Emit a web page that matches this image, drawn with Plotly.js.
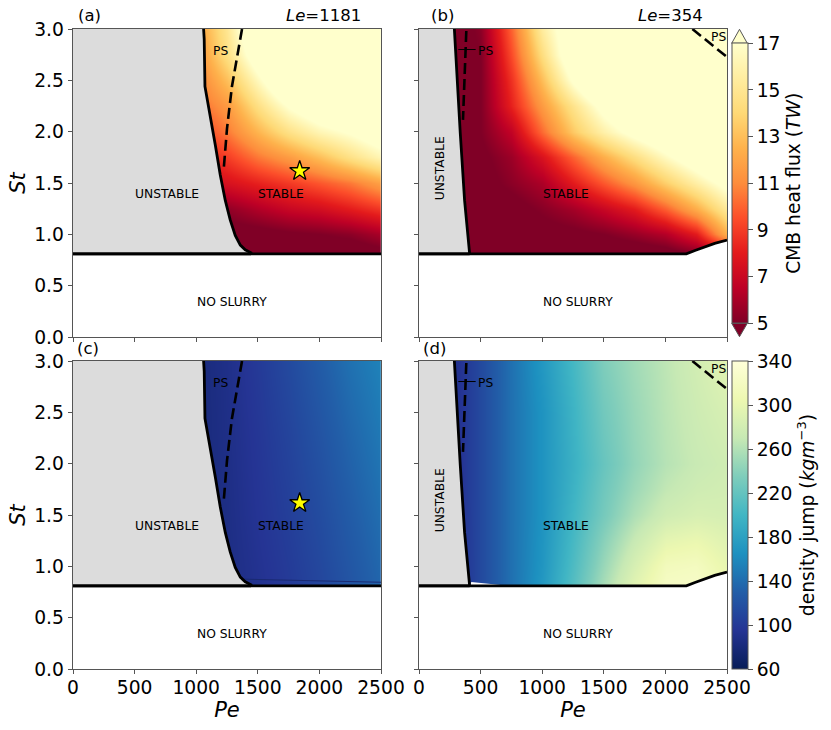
<!DOCTYPE html>
<html>
<head>
<meta charset="utf-8">
<script src="https://cdn.plot.ly/plotly-3.0.1.min.js"></script>
<style>
  html, body { margin: 0; padding: 0; background: #fff; }
  #plot { width: 831px; height: 730px; }
</style>
</head>
<body>
<div id="plot"></div>
<script>
  // grids run a little past the axes so the colour reaches the frame
  const stRows = [0.8, 0.81, 1.0, 1.25, 1.5, 1.75, 2.0, 2.25, 2.5, 2.75, 3.0, 3.25];

  // CMB heat flux (TW), values outside 5-17 just saturate the colour
  const peColsA = [1000, 1250, 1500, 1750, 2000, 2250, 2500, 2750];
  const heatFluxA = [
    [4, 4, 4, 4, 4, 4, 4.5, 5],
    [4, 4, 4, 4, 4, 4, 4.5, 5],
    [4.3, 4.4, 4.5, 4.8, 5, 5.3, 6, 7],
    [5.2, 5.4, 6.2, 6.9, 7.3, 8, 8.8, 10],
    [7, 7.5, 8.2, 8.9, 9.7, 10.5, 11.8, 13],
    [8, 9, 10.5, 11.6, 13, 14.6, 16.2, 18],
    [9, 10.5, 12.6, 14.6, 16.2, 17.2, 18.6, 20],
    [10, 11.5, 14.5, 17.2, 19, 20, 21, 22],
    [10.5, 13, 16.5, 20, 21, 22, 23, 24],
    [11, 14.5, 18.5, 21, 22, 23, 24, 25],
    [11.5, 15, 20, 22, 23, 24, 25, 26],
    [12, 16, 21, 23, 24, 25, 26, 27],
  ];

  const peColsB = [250, 500, 750, 1000, 1250, 1500, 1750, 2000, 2250, 2500, 2750];
  const heatFluxB = [
    [4, 4, 4, 4, 4, 4, 4, 4.3, 5, 7, 9],
    [4, 4, 4, 4, 4, 4, 4, 4.3, 5, 7, 9],
    [4, 4, 4.2, 4.5, 4.7, 5, 5.6, 6.3, 8, 12.5, 15],
    [4, 4.2, 4.5, 5.2, 5.9, 6.9, 8, 9.9, 12.3, 15.3, 18],
    [4, 4.5, 5.3, 6.1, 8, 9.7, 11.4, 13.6, 15.7, 17.8, 20],
    [4, 4.7, 5.7, 7.6, 10, 12.3, 14.4, 16.6, 18.6, 21, 23],
    [4, 5, 6.7, 10.2, 13.4, 15.8, 17.8, 19.4, 20.5, 22, 24],
    [4, 5, 8.2, 11.6, 14.8, 17.8, 20, 21, 22, 23, 25],
    [4, 5, 8.7, 13, 17.4, 21, 22, 23, 24, 25, 26],
    [4, 5, 9.4, 14.4, 19, 22, 23, 24, 25, 26, 27],
    [4, 5.3, 10, 15.5, 19, 22, 23, 24, 25, 26, 27],
    [4, 5.5, 11, 16.5, 20, 23, 24, 25, 26, 27, 28],
  ];

  // density jump (kg m-3)
  const stRowsC = [0.8, 0.81, 1.5, 2.25, 3.0, 3.25];
  const densityC = [
    [80, 85, 92, 100, 110, 122, 135, 148],
    [80, 85, 92, 100, 110, 122, 135, 148],
    [80, 86, 95, 104, 115, 128, 141, 154],
    [80, 87, 97, 108, 121, 135, 148, 160],
    [80, 88, 100, 113, 128, 143, 155, 167],
    [80, 89, 101, 115, 130, 145, 157, 169],
  ];

  const stRowsD = [0.8, 0.81, 1.0, 1.25, 1.5, 1.75, 2.0, 2.5, 3.0, 3.25];
  const densityD = [
    [82, 113, 143, 172, 212, 255, 295, 322, 325, 305, 290],
    [82, 113, 143, 172, 212, 255, 295, 322, 325, 305, 290],
    [82, 113, 143, 170, 208, 248, 285, 315, 318, 300, 285],
    [83, 113, 143, 169, 204, 240, 272, 298, 303, 292, 282],
    [84, 113, 143, 168, 200, 230, 258, 278, 285, 283, 280],
    [85, 113, 143, 168, 197, 226, 250, 268, 277, 280, 280],
    [85, 113, 143, 168, 195, 222, 245, 262, 272, 278, 282],
    [85, 113, 143, 168, 198, 228, 248, 264, 276, 285, 292],
    [85, 113, 143, 172, 203, 235, 252, 266, 280, 295, 305],
    [85, 113, 143, 174, 206, 238, 255, 269, 284, 300, 310],
  ];

  // regime boundaries
  const slurrySt = 0.81;
  const unstablePeA = [1060, 1065, 1071, 1114, 1155, 1195, 1236, 1276, 1317, 1358, 1398, 1445, 1445];
  const unstableStA = [3.0, 2.9, 2.44, 2.16, 1.87, 1.58, 1.33, 1.14, 0.99, 0.895, 0.85, 0.82, 0.81];
  const unstablePeB = [287, 303, 335, 370, 411];
  const unstableStB = [3.0, 2.64, 1.985, 1.33, 0.81];
  const noSlurryPeA = [0, 2500];
  const noSlurryStA = [0.81, 0.81];
  const noSlurryPeB = [0, 2170, 2240, 2305, 2400, 2500];
  const noSlurryStB = [0.81, 0.81, 0.843, 0.872, 0.912, 0.944];
  const psPeA = [1372, 1331, 1290, 1250, 1223];
  const psStA = [3.0, 2.73, 2.44, 2.03, 1.63];
  const psPeB = [384, 371, 357];
  const psStB = [2.98, 2.64, 2.115];
  const psCornerPe = [2219, 2360, 2500];
  const psCornerSt = [3.0, 2.86, 2.727];
  const psLeaderPe = [319, 460];
  const psLeaderSt = [2.8, 2.8];
  const sliverPeD = [411, 425, 682, 800];
  const sliverStD = [0.81, 0.848, 0.816, 0.81];
  const edgePeC = [1385, 2500];
  const edgeStC = [0.875, 0.845];
  const starPe = [1840];
  const starSt = [1.617];

  const xTicks = [0, 500, 1000, 1500, 2000, 2500];
  const yTicks = [0, 0.5, 1, 1.5, 2, 2.5, 3];
  const yTickText = ["0.0", "0.5", "1.0", "1.5", "2.0", "2.5", "3.0"];
  const fluxTicks = [5, 7, 9, 11, 13, 15, 17];
  const densityTicks = [60, 100, 140, 180, 220, 260, 300, 340];

  const fluxColors = ["#800026", "#bd0026", "#e31a1c", "#fc4e2a", "#fd8d3c", "#feb24c", "#fed976", "#ffeda0", "#ffffcc"];
  const densityColors = ["#081d58", "#253494", "#225ea8", "#1d91c0", "#41b6c4", "#7fcdbb", "#c7e9b4", "#edf8b1", "#ffffd9"];

  const W = 831;
  const H = 730;
  const FONT = "DejaVu Sans, sans-serif";
  const AXIS_COLOR = "#555";
  const DASH = "11px,5px";

  function px(x) { return x / W; }
  function py(y) { return 1 - y / H; }

  function scale(colors) {
    return colors.map((c, i) => [i / (colors.length - 1), c]);
  }

  function region(xa, ya, x, y, color) {
    return { type: "scatter", mode: "none", fill: "toself", fillcolor: color, x: x, y: y, xaxis: xa, yaxis: ya, hoverinfo: "skip", showlegend: false };
  }

  function line(xa, ya, x, y, width, dash, color) {
    return { type: "scatter", mode: "lines", x: x, y: y, xaxis: xa, yaxis: ya, line: { color: color || "#000", width: width, dash: dash || "solid" }, hoverinfo: "skip", showlegend: false };
  }

  function panelTraces(xa, ya, unstablePe, unstableSt, noSlurryPe, noSlurrySt) {
    const lastPe = unstablePe[unstablePe.length - 1];
    const lastSt = unstableSt[unstableSt.length - 1];
    return [
      region(xa, ya, [0].concat(unstablePe, [0]), [unstableSt[0]].concat(unstableSt, [lastSt]), "#dcdcdc"),
      region(xa, ya, noSlurryPe.concat([2500, 0]), noSlurrySt.concat([0, 0]), "#ffffff"),
      line(xa, ya, unstablePe, unstableSt, 2.8),
      line(xa, ya, [0, lastPe], [slurrySt, slurrySt], 2.8),
      line(xa, ya, noSlurryPe, noSlurrySt, 2.8),
    ];
  }

  function star(xa, ya) {
    return { type: "scatter", mode: "markers", x: starPe, y: starSt, xaxis: xa, yaxis: ya, marker: { symbol: "star", size: 15, color: "#ffff00", line: { color: "#000", width: 1.3 } }, hoverinfo: "skip", showlegend: false };
  }

  function colorbar(title, ticks, top, bottom) {
    return {
      title: { text: title, side: "right", font: { family: FONT, size: 18.7, color: "#000" } },
      tickvals: ticks,
      ticktext: ticks.map(String),
      ticks: "outside",
      ticklen: 5,
      tickcolor: AXIS_COLOR,
      tickfont: { family: FONT, size: 18.7, color: "#000" },
      thickness: 15.6,
      lenmode: "pixels",
      len: bottom - top,
      yanchor: "middle",
      y: py((top + bottom) / 2),
      x: px(731.7),
      xanchor: "left",
      xpad: 0,
      ypad: 0,
      outlinewidth: 1,
      outlinecolor: AXIS_COLOR,
    };
  }

  function heat(xa, ya, x, y, z, colors, zmin, zmax, bar) {
    return { type: "heatmap", x: x, y: y, z: z, xaxis: xa, yaxis: ya, colorscale: scale(colors), zmin: zmin, zmax: zmax, zsmooth: "best", showscale: Boolean(bar), colorbar: bar, hoverinfo: "skip" };
  }

  const traces = [
    heat("x", "y", peColsA, stRows, heatFluxA, fluxColors, 5, 17),
    heat("x2", "y2", peColsB, stRows, heatFluxB, fluxColors, 5, 17, colorbar("CMB heat flux (<i>TW</i>)", fluxTicks, 43.3, 323.3)),
    heat("x3", "y3", peColsA, stRowsC, densityC, densityColors, 60, 340),
    heat("x4", "y4", peColsB, stRowsD, densityD, densityColors, 60, 340, colorbar("density jump (<i>kgm</i><sup>−3</sup>)", densityTicks, 361, 669)),
    line("x3", "y3", edgePeC, edgeStC, 1, "solid", "#1a2a72"),
    region("x4", "y4", sliverPeD, sliverStD, "#ffffff"),
  ].concat(
    panelTraces("x", "y", unstablePeA, unstableStA, noSlurryPeA, noSlurryStA),
    panelTraces("x2", "y2", unstablePeB, unstableStB, noSlurryPeB, noSlurryStB),
    panelTraces("x3", "y3", unstablePeA, unstableStA, noSlurryPeA, noSlurryStA),
    panelTraces("x4", "y4", unstablePeB, unstableStB, noSlurryPeB, noSlurryStB),
    [
      line("x", "y", psPeA, psStA, 2.6, DASH),
      line("x3", "y3", psPeA, psStA, 2.6, DASH),
      line("x2", "y2", psPeB, psStB, 2.6, DASH),
      line("x4", "y4", psPeB, psStB, 2.6, DASH),
      line("x2", "y2", psCornerPe, psCornerSt, 2.6, DASH),
      line("x4", "y4", psCornerPe, psCornerSt, 2.6, DASH),
      line("x2", "y2", psLeaderPe, psLeaderSt, 1),
      line("x4", "y4", psLeaderPe, psLeaderSt, 1),
      star("x", "y"),
      star("x3", "y3"),
    ]
  );

  function xAxis(left, right, anchor, labelled) {
    return {
      domain: [px(left), px(right)],
      anchor: anchor,
      range: [0, 2500],
      tickvals: xTicks,
      ticktext: xTicks.map(String),
      showticklabels: labelled,
      ticks: "outside",
      ticklen: 4,
      tickcolor: AXIS_COLOR,
      tickfont: { family: FONT, size: 18.7, color: "#000" },
      ticklabelstandoff: -3,
      showline: true,
      mirror: true,
      linecolor: AXIS_COLOR,
      linewidth: 1.3,
      showgrid: false,
      zeroline: false,
      title: labelled ? { text: "<i>Pe</i>", font: { family: FONT, size: 21, color: "#000" }, standoff: 4 } : undefined,
    };
  }

  function yAxis(top, bottom, anchor, labelled) {
    return {
      domain: [py(bottom), py(top)],
      anchor: anchor,
      range: [0, 3],
      tickvals: yTicks,
      ticktext: yTickText,
      showticklabels: labelled,
      ticks: "outside",
      ticklen: 4,
      tickcolor: AXIS_COLOR,
      tickfont: { family: FONT, size: 18.7, color: "#000" },
      showline: true,
      mirror: true,
      linecolor: AXIS_COLOR,
      linewidth: 1.3,
      showgrid: false,
      zeroline: false,
      title: labelled ? { text: "<i>St</i>", font: { family: FONT, size: 21, color: "#000" }, standoff: 3 } : undefined,
    };
  }

  function label(xa, ya, x, y, text, extra) {
    return Object.assign({ xref: xa, yref: ya, x: x, y: y, text: text, showarrow: false, xanchor: "center", yanchor: "middle", font: { family: FONT, size: 12.3, color: "#000" } }, extra || {});
  }

  function panelLabels(xa, ya, wide) {
    if (wide) {
      return [
        label(xa, ya, 763, 1.39, "UNSTABLE"),
        label(xa, ya, 1691, 1.39, "STABLE"),
        label(xa, ya, 1290, 0.342, "NO SLURRY"),
        label(xa, ya, 1201, 2.79, "PS"),
      ];
    }
    return [
      label(xa, ya, 168, 1.64, "UNSTABLE", { textangle: -90 }),
      label(xa, ya, 1190, 1.39, "STABLE"),
      label(xa, ya, 1290, 0.342, "NO SLURRY"),
      label(xa, ya, 538, 2.79, "PS"),
      label(xa, ya, 2427, 2.92, "PS"),
    ];
  }

  function outerLabel(x, y, text, anchor) {
    return { xref: "paper", yref: "paper", x: px(x), y: py(y), text: text, showarrow: false, xanchor: anchor, yanchor: "middle", font: { family: FONT, size: 16.5, color: "#000" } };
  }

  function arrowPath(x0, x1, base, tip) {
    return "M" + px(x0) + " " + py(base) + " L" + px(x1) + " " + py(base) + " L" + px((x0 + x1) / 2) + " " + py(tip) + " Z";
  }

  const layout = {
    width: W,
    height: H,
    margin: { l: 0, r: 0, t: 0, b: 0, autoexpand: false },
    paper_bgcolor: "#fff",
    plot_bgcolor: "#fff",
    showlegend: false,
    xaxis: xAxis(73, 381, "y", false),
    yaxis: yAxis(29, 337, "x", true),
    xaxis2: xAxis(419, 727, "y2", false),
    yaxis2: yAxis(29, 337, "x2", false),
    xaxis3: xAxis(73, 381, "y3", true),
    yaxis3: yAxis(361, 669, "x3", true),
    xaxis4: xAxis(419, 727, "y4", true),
    yaxis4: yAxis(361, 669, "x4", false),
    annotations: [].concat(
      panelLabels("x", "y", true),
      panelLabels("x2", "y2", false),
      panelLabels("x3", "y3", true),
      panelLabels("x4", "y4", false),
      [
        outerLabel(76, 15.5, "(a)", "left"),
        outerLabel(363, 15.5, "<i>Le</i>=1181", "right"),
        outerLabel(429, 15.5, "(b)", "left"),
        outerLabel(705, 15.5, "<i>Le</i>=354", "right"),
        outerLabel(75, 348.5, "(c)", "left"),
        outerLabel(421, 348.5, "(d)", "left"),
      ]
    ),
    shapes: [
      { type: "path", xref: "paper", yref: "paper", path: arrowPath(731.7, 747.3, 43.3, 29.3), fillcolor: "#ffffcc", line: { color: AXIS_COLOR, width: 1 } },
      { type: "path", xref: "paper", yref: "paper", path: arrowPath(731.7, 747.3, 323.3, 336.7), fillcolor: "#800026", line: { color: AXIS_COLOR, width: 1 } },
    ],
  };

  Plotly.newPlot("plot", traces, layout, { displayModeBar: false, staticPlot: true });
</script>
</body>
</html>
